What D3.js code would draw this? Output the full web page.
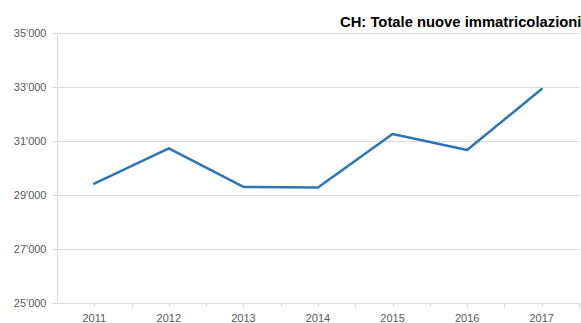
<!DOCTYPE html>
<html>
<head>
<meta charset="utf-8">
<script src="https://cdn.jsdelivr.net/npm/d3@7/dist/d3.min.js"></script>
<style>
  html, body { margin: 0; padding: 0; background: #fff; overflow: hidden; }
  svg { display: block; font-family: Arial, "Liberation Sans", sans-serif; }
</style>
</head>
<body>
<svg id="chart" width="581" height="323"></svg>
<script>
// Annual new vehicle registrations, Switzerland
const years = ["2011", "2012", "2013", "2014", "2015", "2016", "2017"];
const registrations = [29420, 30730, 29300, 29275, 31260, 30670, 32925];
const yTicks = [25000, 27000, 29000, 31000, 33000, 35000];
const titleText = "CH: Totale nuove immatricolazioni";

const svg = d3.select("#chart");
const margin = { left: 57, right: 2, top: 33, bottom: 20 };
const W = 581, H = 323;

const x = d3.scaleBand()
  .domain(years)
  .range([margin.left, W - margin.right])
  .paddingInner(0).paddingOuter(0);

const y = d3.scaleLinear()
  .domain([25000, 35000])
  .range([H - margin.bottom, margin.top]);

const fmt = v => d3.format(",")(v).replace(/,/g, "'");

// horizontal gridlines
svg.append("g")
  .selectAll("line")
  .data(yTicks.filter(t => t !== 25000))
  .join("line")
  .attr("x1", margin.left)
  .attr("x2", W - margin.right)
  .attr("y1", d => Math.round(y(d)) + 0.5)
  .attr("y2", d => Math.round(y(d)) + 0.5)
  .attr("stroke", "#d9d9d9")
  .attr("stroke-width", 1);

// y axis
const yAxis = svg.append("g")
  .attr("transform", `translate(${margin.left + 0.5},0)`)
  .call(d3.axisLeft(y).tickValues(yTicks).tickFormat(fmt).tickSize(5).tickPadding(6));
yAxis.select(".domain").attr("stroke", "#d9d9d9").attr("d", `M0,${margin.top}V${H - margin.bottom}`);
yAxis.selectAll(".tick line").attr("stroke", "#d9d9d9");
yAxis.selectAll(".tick text")
  .attr("fill", "#595959")
  .attr("font-size", "11px")
  .style("font-family", "Arial, 'Liberation Sans', sans-serif");

// x axis
const xAxisY = Math.round(y(25000)) + 0.5;
const xg = svg.append("g").attr("transform", `translate(0,${xAxisY})`);
xg.append("line")
  .attr("x1", margin.left).attr("x2", W - margin.right)
  .attr("stroke", "#d9d9d9");
// tick marks at category centres and boundaries
const bounds = years.map(d => x(d)).concat([x(years[years.length - 1]) + x.bandwidth()]);
const centres = years.map(d => x(d) + x.bandwidth() / 2);
xg.selectAll("line.tick")
  .data(bounds.slice(1).concat(centres))
  .join("line")
  .attr("class", "tick")
  .attr("x1", d => Math.round(d) + 0.5).attr("x2", d => Math.round(d) + 0.5)
  .attr("y1", 0).attr("y2", 4)
  .attr("stroke", "#d9d9d9");
xg.selectAll("text")
  .data(years)
  .join("text")
  .attr("x", d => x(d) + x.bandwidth() / 2)
  .attr("y", 18)
  .attr("text-anchor", "middle")
  .attr("fill", "#595959")
  .attr("font-size", "11px")
  .text(d => d);

// series line
const line = d3.line()
  .x((d, i) => x(years[i]) + x.bandwidth() / 2)
  .y(d => y(d));
svg.append("path")
  .datum(registrations)
  .attr("d", line)
  .attr("fill", "none")
  .attr("stroke", "#2e75b6")
  .attr("stroke-width", 2.5)
  .attr("stroke-linejoin", "round")
  .attr("stroke-linecap", "round");

// title
svg.append("text")
  .attr("x", 340)
  .attr("y", 27)
  .attr("font-size", "14.8px")
  .attr("font-weight", "bold")
  .attr("fill", "#000")
  .text(titleText);
</script>
</body>
</html>
